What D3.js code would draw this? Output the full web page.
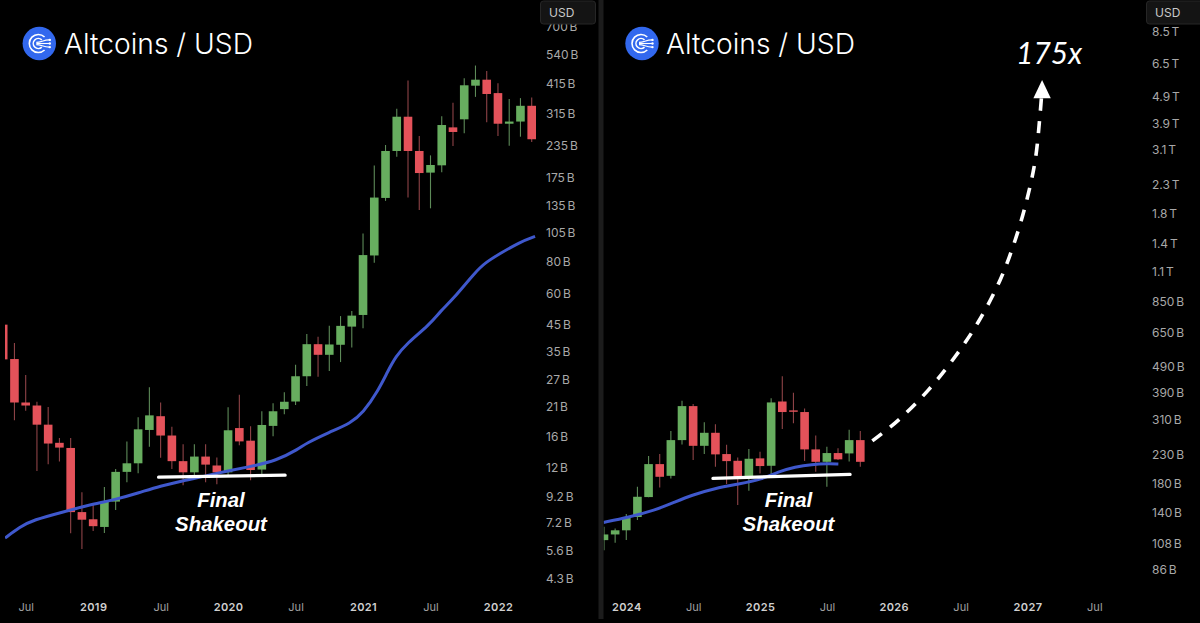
<!DOCTYPE html>
<html>
<head>
    <title>Altcoins / USD</title>
    <script src="https://d3js.org/d3.v7.min.js"></script>
    <style>
        html, body { margin: 0; padding: 0; background: #000; overflow: hidden; }
        svg { display: block; font-family: Inter, "Noto Sans", sans-serif; }
    </style>
</head>
<body>
    <div id="chart"></div>
    <script>
    // left panel, May 2018 - Apr 2022, one candle per month, values in billions
    let leftOpen = [44.9, 32.7, 21.9, 21.3, 17.85, 15.1, 14.4, 7.97, 7.46, 6.95, 8.78, 11.55, 12.5, 17.0, 19.3, 16.15,
        12.75, 11.5, 13.3, 12.25, 11.5, 17.3, 15.4, 11.8, 17.65, 20.6, 22.1, 27.9, 37.5, 34, 37.3, 44.1,
        49.1, 85, 144.5, 222.8, 305.6, 222.8, 182.5, 195.2, 277, 298.4, 406.9, 430, 380, 286.5, 292.3, 338];
    let leftClose = [32.6, 21.9, 21.3, 17.85, 15.0, 14.45, 7.97, 7.43, 7.0, 8.75, 11.55, 12.5, 17.1, 19.45, 16.15, 12.75,
        11.5, 13.3, 12.35, 11.5, 16.95, 15.3, 11.75, 17.8, 20.2, 22.05, 27.9, 37.5, 34, 37.4, 44.4, 48.8,
        85.3, 145, 222.8, 305.6, 222.8, 181.8, 195.8, 283.1, 265.5, 408.4, 430, 376.9, 286.5, 292.3, 338, 248.3];
    let leftHigh = [44.9, 37.9, 28.2, 22.05, 21.0, 15.8, 15.8, 9.56, 8.65, 10.05, 11.85, 15.3, 19.1, 25.2, 21.9, 17.5,
        14.9, 14.9, 14.9, 13.2, 20.95, 23.5, 17.6, 20.2, 21.75, 24.05, 31, 41.2, 40.2, 44.5, 48.6, 50.9,
        104, 195, 235.4, 329, 426.5, 255.8, 214, 306.6, 348, 435.5, 490, 465.9, 416.4, 359.5, 362.8, 365];
    let leftLow = [32.6, 18.6, 20.3, 11.65, 12.4, 12.7, 6.55, 5.67, 6.7, 6.58, 8.12, 10.5, 11.4, 14.55, 13.15, 11.85,
        10.2, 10.8, 10.5, 10.3, 11.15, 14.75, 10.7, 11.15, 16.05, 19.65, 21.4, 25.5, 27.75, 29.3, 31.8, 36.4,
        43.4, 79.5, 140.6, 211.4, 145, 129.2, 131.3, 183, 233.3, 262.4, 367, 290.3, 255.8, 233.9, 254.2, 242.3];

    // moving average: month position and value
    let leftMaMonth = [0.16, 1.5, 2.67, 5.33, 8, 10, 12.1, 13.9, 16.3, 18.95, 21.9, 24.3, 26.3, 26.9, 29, 30.9, 32,
        33.3, 34.2, 34.9, 35.9, 37.9, 38.9, 39.95, 42, 42.9, 44.1, 45.9, 47.3];
    let leftMaValue = [6.27, 6.96, 7.41, 7.98, 8.59, 8.95, 9.53, 10.13, 10.7, 11.4, 12.1, 12.8, 14.3, 15, 16.65, 18.1, 19.9,
        24.2, 29.2, 33.4, 37.8, 44.8, 51, 56.4, 73.1, 79.7, 86, 96, 101.3];

    let leftPriceTicks = [700, 540, 415, 315, 235, 175, 135, 105, 80, 60, 45, 35, 27, 21, 16, 12, 9.2, 7.2, 5.6, 4.3];
    let leftPriceLabels = ["700 B", "540 B", "415 B", "315 B", "235 B", "175 B", "135 B", "105 B", "80 B", "60 B", "45 B",
        "35 B", "27 B", "21 B", "16 B", "12 B", "9.2 B", "7.2 B", "5.6 B", "4.3 B"];
    let leftTimeTicks = [2, 8, 14, 20, 26, 32, 38, 44];
    let leftTimeLabels = ["Jul", "2019", "Jul", "2020", "Jul", "2021", "Jul", "2022"];
    let leftShakeoutMonth = [13.82, 25.07];
    let leftShakeoutValue = [11.0, 11.2];

    // right panel, Nov 2023 - Oct 2025
    let rightOpen = [111, 116.5, 120.7, 135.2, 160.3, 212.4, 192.2, 260.7, 348.5, 248.3, 277.5, 231.4, 218.5, 189.2, 223.1, 209.4,
        362.5, 336, 331.3, 240.8, 216.6, 233.4, 232.7, 260.7];
    let rightClose = [116.5, 120.7, 135.2, 160.7, 212.4, 190.6, 260.7, 348.5, 248.3, 277.5, 230.8, 217.9, 187.8, 222.3, 208.9, 359.6,
        331.3, 334, 240.8, 216.6, 233.4, 221.2, 260.7, 216.6];
    let rightHigh = [124.4, 122.7, 138.6, 175, 227.4, 231.4, 281.6, 364.7, 354.5, 303.4, 298.2, 250.4, 224.9, 241.4, 235.9, 372.4,
        450, 391, 341.8, 271.4, 246.2, 243, 284.7, 281.6];
    let rightLow = [101.7, 108.5, 111, 131.7, 160, 174.1, 187.8, 251.3, 219.8, 231.4, 207.5, 179.1, 149.7, 169.1, 196.2, 189.8,
        286.4, 301, 218, 198.9, 175, 219.8, 217.4, 207.5];

    let rightMaMonth = [-0.05, 2.18, 4.58, 6.22, 7.87, 9.96, 12.06, 14.16, 15.65, 17.15, 18.64, 20.13, 21.03];
    let rightMaValue = [129.1, 134.8, 143.4, 152.7, 163, 172.6, 179.1, 186.4, 199, 207.3, 212, 213.1, 212.6];

    let rightPriceTicks = [8500, 6500, 4900, 3900, 3100, 2300, 1800, 1400, 1100, 850, 650, 490, 390, 310, 230, 180, 140, 108, 86];
    let rightPriceLabels = ["8.5 T", "6.5 T", "4.9 T", "3.9 T", "3.1 T", "2.3 T", "1.8 T", "1.4 T", "1.1 T", "850 B", "650 B",
        "490 B", "390 B", "310 B", "230 B", "180 B", "140 B", "108 B", "86 B"];
    let rightTimeTicks = [2, 8, 14, 20, 26, 32, 38, 44];
    let rightTimeLabels = ["2024", "Jul", "2025", "Jul", "2026", "Jul", "2027", "Jul"];
    let rightShakeoutMonth = [9.78, 22.08];
    let rightShakeoutValue = [188, 194.6];

    // the projected move after the last candle
    let projectionMonth = [24.08, 26.42, 29.1, 31.5, 33.6, 35.55, 36.9, 37.94, 38.7, 39.14, 39.25];
    let projectionValue = [259, 309.3, 399.6, 531, 716, 1023, 1439, 2025, 2849, 4246, 4825];
    let projectionTip = 5641;

    let width = 1200,
        height = 623;

    let greenBody = "#67ad5f",
        redBody = "#e4525a",
        greenWick = "#5d8a58",
        redWick = "#8e4347",
        maBlue = "#3f58cc";

    let svg = d3.select("#chart")
        .append("svg")
        .attr("width", width)
        .attr("height", height);

    svg.append("rect").attr("width", width).attr("height", height).attr("fill", "#000");

    // draws one chart panel, both panels share this
    function drawPanel(p) {
        let x = d3.scaleLinear().domain([0, p.lastMonth]).range(p.xRange);
        let y = d3.scaleLog().domain(p.yDomain).range(p.yRange);

        let clipId = "clip-" + p.name;
        svg.append("clipPath").attr("id", clipId)
            .append("rect")
            .attr("x", p.clip[0]).attr("y", 0)
            .attr("width", p.clip[1] - p.clip[0]).attr("height", height);

        let plot = svg.append("g").attr("clip-path", `url(#${clipId})`);
        let months = d3.range(p.open.length);
        let isUp = i => p.close[i] >= p.open[i];

        // wicks
        plot.selectAll(".wick")
            .data(months)
            .enter()
            .append("line")
            .attr("class", "wick")
            .attr("x1", i => x(i))
            .attr("x2", i => x(i))
            .attr("y1", i => y(p.high[i]))
            .attr("y2", i => y(p.low[i]))
            .attr("stroke", i => isUp(i) ? greenWick : redWick)
            .attr("stroke-width", 1.1);

        // bodies
        plot.selectAll(".body")
            .data(months)
            .enter()
            .append("rect")
            .attr("class", "body")
            .attr("x", i => x(i) - 4.3)
            .attr("width", 8.6)
            .attr("y", i => y(Math.max(p.open[i], p.close[i])))
            .attr("height", i => Math.max(1.4, Math.abs(y(p.open[i]) - y(p.close[i]))))
            .attr("fill", i => isUp(i) ? greenBody : redBody);

        // moving average
        let ma = d3.line()
            .x(i => x(p.maMonth[i]))
            .y(i => y(p.maValue[i]))
            .curve(d3.curveBasis);

        plot.append("path")
            .attr("d", ma(d3.range(p.maMonth.length)))
            .attr("fill", "none")
            .attr("stroke", maBlue)
            .attr("stroke-width", 3);

        // white support line
        svg.append("line")
            .attr("x1", x(p.shakeoutMonth[0]))
            .attr("y1", y(p.shakeoutValue[0]))
            .attr("x2", x(p.shakeoutMonth[1]))
            .attr("y2", y(p.shakeoutValue[1]))
            .attr("stroke", "#fff")
            .attr("stroke-width", 3.3)
            .attr("stroke-linecap", "round");

        // price axis
        let priceAxis = svg.append("g")
            .attr("transform", `translate(${p.axisX}, 0)`)
            .call(d3.axisRight(y)
                .tickValues(p.priceTicks)
                .tickFormat((d, i) => p.priceLabels[i])
                .tickSize(0)
                .tickPadding(0));
        priceAxis.select(".domain").remove();
        priceAxis.selectAll("text")
            .attr("fill", "#a8a8a8")
            .style("font-family", "Inter")
            .style("font-size", "12px")
            .style("word-spacing", "-1.5px");

        // time axis
        let timeAxis = svg.append("g")
            .attr("transform", "translate(0, 603)")
            .call(d3.axisBottom(x)
                .tickValues(p.timeTicks)
                .tickFormat((d, i) => p.timeLabels[i])
                .tickSize(0)
                .tickPadding(0));
        timeAxis.select(".domain").remove();
        timeAxis.selectAll("text")
            .attr("fill", (d, i) => p.timeLabels[i] === "Jul" ? "#a0a0a0" : "#d0d0d0")
            .style("font-family", "Inter")
            .style("font-size", "11px")
            .style("font-weight", (d, i) => p.timeLabels[i] === "Jul" ? 400 : 600)
            .style("letter-spacing", (d, i) => p.timeLabels[i] === "Jul" ? "0" : "0.4px");

        // USD box sits on top of the highest tick
        svg.append("rect")
            .attr("x", p.axisX - 5.5).attr("y", 1)
            .attr("width", p.usdWidth).attr("height", 23)
            .attr("rx", 3)
            .attr("fill", "#141414")
            .attr("stroke", "#262626");
        svg.append("text")
            .attr("x", p.axisX + 3).attr("y", 17)
            .attr("fill", "#c8c8c8")
            .style("font-size", "12px")
            .text("USD");

        // title with coin icon
        let icon = svg.append("g").attr("transform", `translate(${p.iconX}, 43.5)`);
        icon.append("circle").attr("r", 16.7).attr("fill", "#3268ee");
        let arc = d3.arc()
            .startAngle(Math.PI / 2 + 0.8)
            .endAngle(Math.PI * 2.5 - 0.8);
        [9, 5].forEach(function(r) {
            icon.append("path")
                .attr("transform", "translate(-1, 0)")
                .attr("d", arc({ innerRadius: r - 0.8, outerRadius: r + 0.8 }))
                .attr("fill", "#fff");
        });
        [-3.6, 0, 3.6].forEach(function(end) {
            icon.append("path")
                .attr("d", `M-3,${end * 0.3}C2,${end * 0.3} 4,${end} 10,${end}`)
                .attr("fill", "none")
                .attr("stroke", "#fff")
                .attr("stroke-width", 1.1);
            icon.append("circle").attr("cx", 10.5).attr("cy", end).attr("r", 1.2).attr("fill", "#fff");
        });

        svg.append("text")
            .attr("x", p.titleX).attr("y", 54)
            .attr("fill", "#fff")
            .style("font-size", "28.2px")
            .style("font-weight", 300)
            .text("Altcoins / USD");

        // Final Shakeout label
        let label = svg.append("g")
            .attr("text-anchor", "middle")
            .attr("fill", "#fff")
            .style("font-family", "Liberation Sans")
            .style("font-size", "20.4px")
            .style("font-style", "italic")
            .style("font-weight", 700);
        label.append("text").attr("x", p.labelX).attr("y", 507).text("Final");
        label.append("text").attr("x", p.labelX).attr("y", 531).text("Shakeout");

        return { x: x, y: y };
    }

    let left = drawPanel({
        name: "left",
        open: leftOpen, close: leftClose, high: leftHigh, low: leftLow,
        maMonth: leftMaMonth, maValue: leftMaValue,
        priceTicks: leftPriceTicks, priceLabels: leftPriceLabels,
        timeTicks: leftTimeTicks, timeLabels: leftTimeLabels,
        shakeoutMonth: leftShakeoutMonth, shakeoutValue: leftShakeoutValue,
        lastMonth: 47, xRange: [3.2, 531.7],
        yDomain: [540, 4.3], yRange: [55, 579],
        clip: [5, 540],
        axisX: 546, usdWidth: 55,
        iconX: 39.3, titleX: 64, labelX: 221
    });

    let right = drawPanel({
        name: "right",
        open: rightOpen, close: rightClose, high: rightHigh, low: rightLow,
        maMonth: rightMaMonth, maValue: rightMaValue,
        priceTicks: rightPriceTicks, priceLabels: rightPriceLabels,
        timeTicks: rightTimeTicks, timeLabels: rightTimeLabels,
        shakeoutMonth: rightShakeoutMonth, shakeoutValue: rightShakeoutValue,
        lastMonth: 23, xRange: [604, 860.3],
        yDomain: [8500, 86], yRange: [32, 570],
        clip: [603.6, 1147],
        axisX: 1152, usdWidth: 60,
        iconX: 642, titleX: 666, labelX: 788.5
    });

    // divider between the two screenshots
    svg.append("rect")
        .attr("x", 598.5).attr("y", 0)
        .attr("width", 5).attr("height", 619)
        .attr("fill", "#1c1c1c");

    // dashed projection with arrow head
    let projection = d3.line()
        .x(i => right.x(projectionMonth[i]))
        .y(i => right.y(projectionValue[i]))
        .curve(d3.curveCatmullRom);

    svg.append("path")
        .attr("d", projection(d3.range(projectionMonth.length)))
        .attr("fill", "none")
        .attr("stroke", "#fff")
        .attr("stroke-width", 3.6)
        .attr("stroke-dasharray", "12 10.5");

    let lastI = projectionMonth.length - 1;
    let baseX = right.x(projectionMonth[lastI]),
        baseY = right.y(projectionValue[lastI]),
        tipY = right.y(projectionTip);
    svg.append("polygon")
        .attr("points", `${baseX + 0.7},${tipY} ${baseX + 9.4},${baseY} ${baseX - 8},${baseY}`)
        .attr("fill", "#fff");

    svg.append("text")
        .attr("x", 1016).attr("y", 64)
        .attr("fill", "#fff")
        .style("font-family", "Lato")
        .style("font-size", "30px")
        .style("font-style", "italic")
        .style("font-weight", 400)
        .text("175x");
    </script>
</body>
</html>
